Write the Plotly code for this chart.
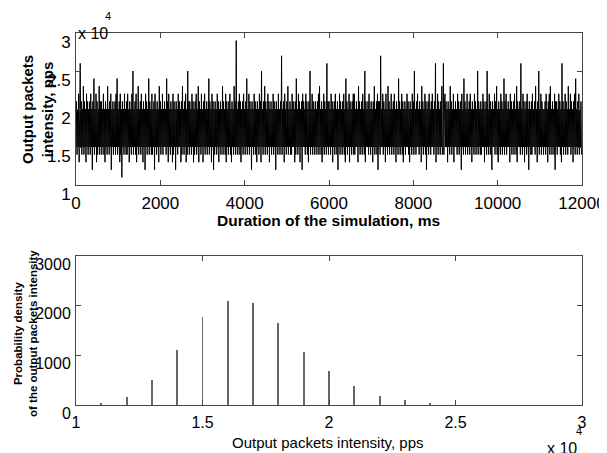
import plotly.graph_objects as go

# output packets intensity, thousands of pps, one reading every 12.5 ms
intensity_k = [
    15, 21, 14, 20, 15, 22, 13, 20, 26, 15, 21, 14, 20, 15, 23, 14, 21, 15, 20, 13, 22, 15, 21, 14,
    20, 15, 21, 14, 22, 15, 20, 12, 21, 15, 24, 14, 20, 15, 22, 13, 21, 14, 20, 15, 23, 14, 21, 15,
    21, 14, 20, 15, 22, 14, 20, 13, 21, 15, 20, 14, 23, 15, 20, 14, 21, 15, 22, 12, 20, 15, 21, 14,
    20, 15, 21, 14, 22, 15, 24, 14, 20, 15, 21, 13, 22, 14, 20, 11, 21, 15, 20, 14, 22, 15, 20, 14,
    21, 14, 22, 15, 20, 13, 21, 15, 20, 14, 22, 15, 25, 14, 20, 15, 21, 14, 22, 13, 20, 15, 23, 14,
    20, 15, 21, 14, 22, 15, 20, 13, 21, 15, 20, 12, 22, 15, 21, 14, 20, 15, 24, 14, 21, 15, 20, 14,
    22, 14, 20, 15, 21, 12, 22, 15, 20, 14, 21, 15, 20, 13, 23, 15, 21, 14, 20, 15, 22, 14, 20, 15,
    21, 15, 20, 14, 24, 15, 21, 13, 22, 15, 20, 14, 21, 15, 20, 13, 22, 14, 21, 15, 20, 12, 21, 15,
    20, 14, 22, 15, 21, 15, 20, 13, 21, 14, 23, 15, 20, 14, 21, 15, 22, 13, 20, 14, 25, 15, 21, 14,
    21, 15, 20, 14, 22, 15, 21, 13, 20, 14, 21, 15, 22, 14, 20, 15, 23, 13, 21, 15, 20, 14, 22, 15,
    20, 13, 21, 15, 22, 14, 20, 15, 21, 14, 20, 15, 24, 14, 21, 15, 20, 13, 22, 15, 21, 12, 20, 14,
    21, 15, 20, 14, 22, 15, 21, 13, 20, 15, 21, 14, 20, 15, 23, 14, 21, 15, 20, 14, 22, 13, 21, 15,
    20, 14, 21, 15, 22, 14, 20, 13, 21, 15, 20, 14, 23, 15, 21, 14, 29, 15, 20, 14, 21, 15, 22, 14,
    21, 13, 20, 15, 21, 14, 22, 15, 20, 14, 21, 15, 24, 14, 20, 15, 22, 14, 21, 15, 20, 12, 21, 15,
    20, 14, 22, 15, 21, 14, 20, 13, 21, 15, 20, 14, 22, 15, 21, 13, 25, 15, 20, 14, 21, 15, 23, 14,
    21, 15, 20, 14, 22, 15, 21, 13, 20, 15, 21, 14, 20, 15, 22, 14, 21, 15, 20, 12, 21, 15, 20, 14,
    22, 15, 20, 14, 21, 15, 27, 14, 20, 15, 21, 13, 22, 15, 20, 14, 21, 15, 23, 14, 20, 15, 21, 14,
    20, 14, 22, 15, 21, 15, 20, 13, 21, 14, 24, 15, 20, 14, 22, 15, 21, 13, 20, 15, 21, 12, 22, 15,
    21, 15, 20, 14, 22, 15, 21, 14, 20, 13, 21, 15, 25, 14, 20, 15, 22, 14, 21, 15, 20, 14, 21, 15,
    20, 14, 21, 15, 22, 14, 23, 15, 20, 14, 21, 13, 20, 15, 22, 14, 21, 15, 20, 14, 26, 15, 21, 14,
    21, 15, 20, 14, 22, 15, 21, 13, 20, 15, 21, 14, 22, 15, 20, 14, 21, 12, 20, 15, 22, 14, 21, 15,
    20, 14, 21, 15, 22, 14, 20, 13, 24, 15, 21, 14, 20, 15, 22, 13, 21, 15, 20, 14, 21, 15, 22, 14,
    22, 14, 20, 15, 21, 15, 20, 13, 23, 15, 21, 14, 20, 15, 21, 14, 22, 15, 20, 14, 25, 13, 21, 15,
    20, 15, 21, 14, 22, 15, 20, 14, 21, 15, 20, 13, 21, 15, 23, 14, 20, 15, 21, 14, 22, 12, 21, 15,
    21, 14, 27, 15, 20, 15, 22, 14, 21, 15, 20, 13, 22, 15, 20, 14, 23, 15, 21, 14, 20, 15, 22, 14,
    20, 15, 21, 14, 22, 15, 20, 13, 21, 15, 20, 14, 24, 15, 21, 14, 20, 15, 22, 14, 21, 13, 20, 15,
    21, 14, 20, 15, 22, 15, 21, 14, 20, 13, 21, 15, 20, 14, 22, 15, 21, 14, 25, 15, 20, 14, 21, 15,
    22, 15, 20, 14, 21, 15, 20, 13, 23, 15, 21, 14, 20, 15, 22, 14, 21, 12, 20, 15, 21, 14, 22, 15,
    20, 14, 21, 15, 22, 15, 20, 14, 21, 15, 26, 13, 20, 15, 22, 14, 21, 15, 20, 14, 21, 15, 23, 14,
    15, 26, 14, 20, 22, 15, 21, 15, 20, 13, 21, 15, 20, 14, 23, 15, 21, 14, 20, 15, 22, 13, 20, 15,
    21, 15, 20, 14, 22, 15, 21, 14, 20, 15, 21, 12, 22, 15, 20, 14, 24, 15, 21, 14, 20, 15, 22, 14,
    20, 15, 21, 14, 22, 15, 20, 13, 21, 15, 20, 14, 22, 15, 21, 14, 20, 15, 25, 14, 21, 15, 20, 14,
    21, 14, 20, 15, 22, 15, 21, 13, 20, 15, 21, 14, 25, 15, 20, 14, 22, 15, 21, 14, 20, 12, 21, 15,
    20, 15, 22, 14, 21, 15, 23, 14, 20, 13, 21, 15, 20, 14, 22, 15, 21, 14, 20, 15, 24, 14, 21, 15,
    22, 14, 20, 15, 21, 15, 20, 13, 22, 15, 21, 14, 20, 15, 21, 14, 22, 15, 20, 14, 23, 13, 21, 15,
    20, 15, 21, 14, 26, 15, 20, 14, 22, 15, 21, 13, 20, 15, 21, 14, 22, 15, 20, 12, 21, 15, 20, 14,
    21, 14, 22, 15, 20, 15, 21, 14, 23, 15, 20, 13, 21, 15, 25, 14, 20, 15, 22, 14, 21, 15, 20, 14,
    20, 15, 21, 14, 22, 15, 20, 13, 21, 15, 22, 14, 23, 15, 20, 14, 21, 15, 20, 14, 22, 12, 21, 15,
    21, 14, 20, 15, 22, 15, 21, 14, 20, 13, 26, 15, 21, 14, 20, 15, 22, 14, 21, 15, 20, 14, 23, 15,
    20, 15, 22, 14, 21, 15, 20, 13, 21, 15, 22, 14, 24, 15, 20, 14, 21, 15, 22, 14, 20, 15, 21, 14,
]
time_ms = [i * 12.5 for i in range(len(intensity_k))]
intensity = [v * 1000 for v in intensity_k]

# histogram of the intensity
hist_x = [11000, 12000, 13000, 14000, 15000, 16000, 17000, 18000, 19000, 20000,
          21000, 22000, 23000, 24000]
hist_y = [27, 168, 505, 1111, 1771, 2088, 2061, 1657, 1077, 680, 390, 189, 94, 30]

x_ticks_top = [0, 2000, 4000, 6000, 8000, 10000, 12000]
e4_vals = [10000, 15000, 20000, 25000, 30000]
e4_text = ["1", "1.5", "2", "2.5", "3"]
y_ticks_bot = [0, 1000, 2000, 3000]

# the page body has an 8px margin, so the figure starts at (8, 8)
OFF = 8
W, H = 607 - OFF, 453 - OFF
FONT = "Liberation Sans, Arial, sans-serif"
AX = "#444"


def px(x):
    return (x - OFF) / W


def py(y):
    return 1 - (y - OFF) / H


fig = go.Figure()
fig.add_trace(go.Scatter(x=time_ms, y=intensity, mode="lines",
                         line=dict(color="black", width=1),
                         xaxis="x", yaxis="y", showlegend=False))
fig.add_trace(go.Bar(x=hist_x, y=hist_y, width=35,
                     marker=dict(color="#666", line=dict(width=0)),
                     xaxis="x2", yaxis="y2", showlegend=False))

axis_common = dict(showgrid=False, zeroline=False, showline=True, linecolor=AX,
                   linewidth=1, mirror="ticks", ticks="inside", ticklen=5,
                   tickcolor=AX, automargin=False,
                   tickfont=dict(family=FONT, size=17, color="black"))

fig.update_layout(
    width=W, height=H,
    margin=dict(l=0, r=0, t=0, b=0, pad=0, autoexpand=False),
    paper_bgcolor="white", plot_bgcolor="white",
    bargap=0,
    xaxis=dict(domain=[px(76), px(582)], range=[0, 12000], tickvals=x_ticks_top,
               ticktext=[str(v) for v in x_ticks_top],
               anchor="y", ticklabelstandoff=3, **axis_common),
    yaxis=dict(domain=[py(185), py(33)], range=[10000, 30000], tickvals=e4_vals,
               ticktext=e4_text, anchor="x", ticklabelshift=9, ticklabelstandoff=1,
               **axis_common),
    xaxis2=dict(domain=[px(76), px(582)], range=[10000, 30000], tickvals=e4_vals,
                ticktext=e4_text, anchor="y2", ticklabelstandoff=3, **axis_common),
    yaxis2=dict(domain=[py(405), py(256)], range=[0, 3000], tickvals=y_ticks_bot,
                anchor="x2", ticklabelshift=8, ticklabelstandoff=1, **axis_common),
)
fig.update_xaxes(tickfont_size=16, selector=dict(anchor="y2"))
fig.update_yaxes(tickfont_size=16, selector=dict(anchor="x2"))

ann = [
    dict(text="<b>Output packets<br>intensity, pps</b>", x=px(38), y=py(110),
         textangle=-90, font=dict(size=15)),
    dict(text="<b>Duration of the simulation, ms</b>", x=px(328), y=py(220),
         font=dict(size=15.5)),
    dict(text="<b>Probability density<br>of the output packets intensity</b>",
         x=px(25), y=py(334), textangle=-90, font=dict(size=11.5)),
    dict(text="Output packets intensity, pps", x=px(328), y=py(442),
         font=dict(size=15)),
    dict(text="x 10", x=px(76), y=py(33), xanchor="left", font=dict(size=16)),
    dict(text="4", x=px(108), y=py(16), font=dict(size=11)),
    dict(text="x 10", x=px(545), y=py(448), xanchor="left", font=dict(size=16)),
    dict(text="4", x=px(579), y=py(431), font=dict(size=11)),
]
for a in ann:
    a.setdefault("xanchor", "center")
    a.update(xref="paper", yref="paper", yanchor="middle", showarrow=False)
    a["font"].update(family=FONT, color="black")
    fig.add_annotation(**a)

fig.write_html("out.html")
